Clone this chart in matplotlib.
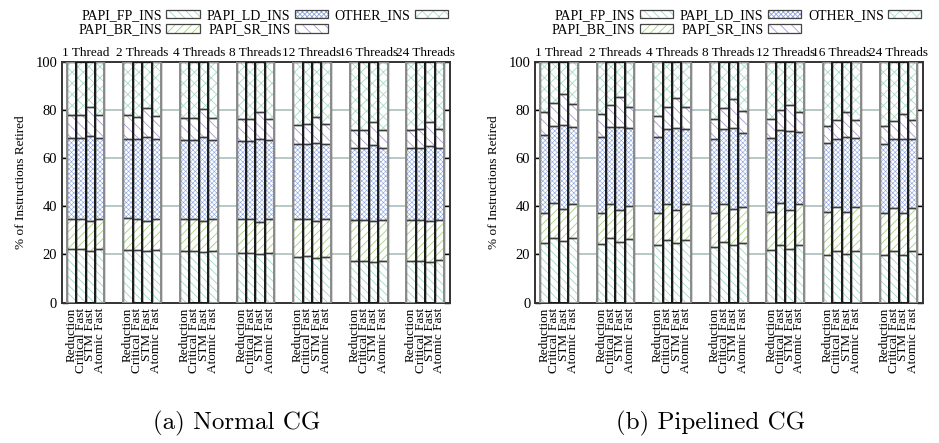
import matplotlib

matplotlib.use("Agg")
import matplotlib.pyplot as plt
import numpy as np
from matplotlib.patches import Patch
from matplotlib.transforms import blended_transform_factory

plt.rcParams["font.family"] = ["Liberation Serif", "DejaVu Serif"]
plt.rcParams["hatch.linewidth"] = 0.6

GROUPS = ["1 Thread", "2 Threads", "4 Threads", "8 Threads", "12 Threads", "16 Threads", "24 Threads"]
VARIANTS = ["Reduction", "Critical Fast", "STM Fast", "Atomic Fast"]
SERIES = ["PAPI_FP_INS", "PAPI_BR_INS", "PAPI_LD_INS", "PAPI_SR_INS", "OTHER_INS"]

# cumulative upper edge of each stacked segment (%), one row per thread group
normal_fp_top = [
    [22.1, 22.1, 21.6, 22.1], [21.9, 21.9, 21.3, 21.9], [21.3, 21.3, 20.9, 21.3],
    [20.7, 20.7, 20.1, 20.5], [18.9, 19.2, 18.4, 19.1], [17.3, 17.3, 17.0, 17.3],
    [17.4, 17.4, 16.7, 17.6],
]
normal_br_top = [
    [34.7, 34.7, 33.9, 34.7], [35.0, 34.6, 33.9, 34.6], [34.6, 34.6, 33.7, 34.6],
    [34.6, 34.6, 33.6, 34.7], [34.6, 34.6, 34.0, 34.6], [34.3, 34.4, 33.7, 34.4],
    [34.2, 34.2, 34.0, 34.4],
]
normal_ld_top = [
    [68.2, 68.2, 69.0, 68.2], [68.0, 67.8, 68.7, 67.8], [67.4, 67.5, 68.5, 67.4],
    [67.1, 67.2, 67.8, 67.4], [65.6, 65.7, 66.4, 65.7], [64.0, 64.2, 65.3, 64.3],
    [64.2, 64.2, 65.1, 64.3],
]
normal_sr_top = [
    [77.9, 77.9, 81.2, 77.9], [77.7, 77.2, 80.6, 77.3], [76.6, 76.6, 80.2, 76.6],
    [76.1, 76.3, 79.0, 76.3], [73.7, 74.0, 77.2, 74.0], [71.5, 71.8, 75.0, 71.8],
    [71.6, 71.9, 74.8, 72.1],
]

pipe_fp_top = [
    [24.6, 27.0, 25.6, 27.0], [24.3, 26.6, 25.3, 26.4], [23.8, 25.9, 24.6, 25.9],
    [23.0, 25.2, 23.8, 24.6], [21.9, 23.8, 22.3, 23.7], [19.9, 21.6, 20.2, 21.6],
    [19.9, 21.6, 19.6, 21.6],
]
pipe_br_top = [
    [37.3, 41.2, 38.7, 40.8], [37.3, 40.8, 38.5, 40.2], [37.3, 40.8, 38.5, 40.8],
    [37.1, 41.1, 38.9, 39.8], [37.6, 41.5, 38.3, 40.9], [37.5, 39.6, 37.5, 39.6],
    [37.3, 39.4, 37.2, 39.4],
]
pipe_ld_top = [
    [69.6, 73.3, 73.6, 72.9], [68.9, 72.8, 73.0, 72.3], [68.6, 72.2, 72.3, 72.2],
    [67.8, 72.1, 72.3, 70.3], [68.2, 71.8, 71.1, 70.8], [66.1, 68.0, 68.5, 68.2],
    [65.8, 68.0, 68.0, 68.0],
]
pipe_sr_top = [
    [79.0, 82.7, 86.4, 82.3], [78.1, 81.9, 85.5, 81.3], [77.6, 81.0, 84.8, 81.3],
    [76.2, 80.6, 84.4, 79.3], [76.2, 79.8, 82.0, 79.0], [73.4, 75.7, 79.0, 75.7],
    [73.3, 75.4, 78.1, 75.7],
]

HATCH_COLORS = ["#9fd8c8", "#a6d27e", "#8aa4e0", "#a49ad6", "#a8dcc6"]
HATCHES = ["\\\\\\\\", "////", "xxxxxxx", "\\\\\\", "xxx"]
HATCH_WIDTHS = [0.6, 0.6, 0.4, 0.6, 0.6]
GROUP_STEP = 6


def draw_panel(ax, tops, caption):
    tops = [np.asarray(t, dtype=float) for t in tops] + [np.full((len(GROUPS), len(VARIANTS)), 100.0)]
    x = np.array([[GROUP_STEP * g + b for b in range(len(VARIANTS))] for g in range(len(GROUPS))], dtype=float)

    for y in (20, 40, 60, 80):
        ax.axhline(y, color="#b2c4c2", lw=1.3, zorder=0)

    # outer bars grey, inner bars black (drawn later so shared edges read black)
    for b in [0, 3, 1, 2]:
        edge = "#8c8c8c" if b in (0, 3) else "#1a1a1a"
        bottom = np.zeros(len(GROUPS))
        for s in range(len(SERIES)):
            top = tops[s][:, b]
            with plt.rc_context({"hatch.linewidth": HATCH_WIDTHS[s]}):
                ax.bar(x[:, b], top - bottom, bottom=bottom, width=1.0, facecolor="white",
                       edgecolor=HATCH_COLORS[s], hatch=HATCHES[s], lw=0, zorder=2)
            ax.bar(x[:, b], top - bottom, bottom=bottom, width=1.0, facecolor="none",
                   edgecolor="#3c3c3c", lw=1.0, zorder=3)
            bottom = top
        ax.bar(x[:, b], 100.0, width=1.0, facecolor="none", edgecolor=edge,
               lw=1.4, zorder=4)

    ax.set_xlim(-1.0, GROUP_STEP * (len(GROUPS) - 1) + len(VARIANTS) - 1 + 1.1)
    ax.set_ylim(0, 100)
    ax.set_yticks([0, 20, 40, 60, 80, 100])
    ax.tick_params(axis="y", direction="in", right=True, length=4, labelsize=10.5, width=1)
    ax.set_xticks(x.flatten())
    ax.set_xticklabels(VARIANTS * len(GROUPS), rotation=90, fontsize=9.5, va="top")
    ax.tick_params(axis="x", length=0, pad=4)
    for sp in ax.spines.values():
        sp.set_linewidth(1.4)
        sp.set_color("#333333")
    ax.set_ylabel("% of Instructions Retired", fontsize=9.5, labelpad=6)

    trans = blended_transform_factory(ax.transData, ax.transAxes)
    for g, name in enumerate(GROUPS):
        ax.text(GROUP_STEP * g + 1.5, 1.012, name, transform=trans, ha="center",
                va="bottom", fontsize=9.5)

    pos = ax.get_position()
    handles = []
    for s in range(len(SERIES)):
        with plt.rc_context({"hatch.linewidth": HATCH_WIDTHS[s]}):
            fill = Patch(facecolor="white", edgecolor=HATCH_COLORS[s], hatch=HATCHES[s], lw=0)
        frame = Patch(facecolor="none", edgecolor="#444444", lw=0.9)
        handles.append((fill, frame))
    ax.figure.legend(handles, SERIES, loc="upper center", ncol=3, markerfirst=False,
                     frameon=False, fontsize=10, handlelength=2.4, handleheight=0.6,
                     columnspacing=0.5, handletextpad=0.3, labelspacing=0.1,
                     bbox_to_anchor=(pos.x0 + pos.width / 2 + 0.008, 1.008))

    ax.figure.text(pos.x0 + pos.width / 2 - 0.02, 0.045, caption, ha="center", va="center",
                   fontsize=18, family="cmr10")


def main():
    fig = plt.figure(figsize=(9.39, 4.43), dpi=100)
    ax_left = fig.add_axes([0.066, 0.317, 0.413, 0.544])
    ax_right = fig.add_axes([0.570, 0.317, 0.413, 0.544])
    draw_panel(ax_left, [normal_fp_top, normal_br_top, normal_ld_top, normal_sr_top], "(a) Normal CG")
    draw_panel(ax_right, [pipe_fp_top, pipe_br_top, pipe_ld_top, pipe_sr_top], "(b) Pipelined CG")
    fig.savefig("out.png", dpi=100)
    plt.close(fig)


if __name__ == "__main__":
    main()
